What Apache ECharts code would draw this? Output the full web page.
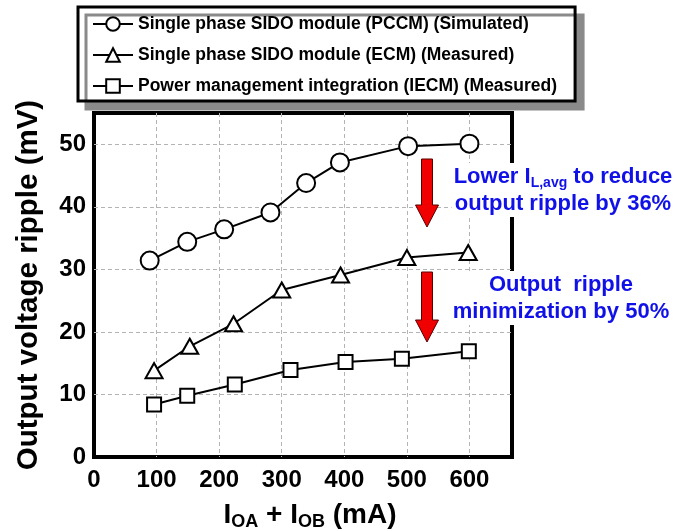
<!DOCTYPE html>
<html>
<head>
<meta charset="utf-8">
<script src="https://cdn.jsdelivr.net/npm/echarts@6/dist/echarts.min.js"></script>
<style>html,body{margin:0;padding:0;background:#fff;}#chart{width:689px;height:531px;}</style>
</head>
<body>
<div id="chart"></div>
<script>
// ---- data ----
var seriesNames = [
  'Single phase SIDO module (PCCM) (Simulated)',
  'Single phase SIDO module (ECM) (Measured)',
  'Power management integration (IECM) (Measured)'
];
var pccmX = [89, 149, 208, 282, 339, 393, 502, 600];
var pccmY = [31.4, 34.4, 36.4, 39.1, 43.8, 47.1, 49.7, 50.1];
var ecmX = [96, 153, 223, 300, 394, 500, 598];
var ecmY = [13.8, 17.7, 21.3, 26.7, 29.1, 31.9, 32.7];
var iecmX = [96, 149, 225, 314, 402, 492, 599];
var iecmY = [8.4, 9.8, 11.6, 13.9, 15.2, 15.7, 16.9];
var annotation1 = ['Lower I', 'L,avg', ' to reduce', 'output ripple by 36%'];
var annotation2 = ['Output  ripple', 'minimization by 50%'];

function pairs(xs, ys) { return xs.map(function (x, i) { return [x, ys[i]]; }); }

var FONT = '"Liberation Sans", Arial, sans-serif';
var BLUE = '#1010e8';

var chart = echarts.init(document.getElementById('chart'), null, { renderer: 'canvas' });

function lineSeries(name, data, symbol, size) {
  return {
    name: name, type: 'line', data: data,
    symbol: symbol, symbolSize: size,
    lineStyle: { color: '#000', width: 2 },
    itemStyle: { color: '#fff', borderColor: '#000', borderWidth: 2 },
    emphasis: { disabled: true },
    z: 5
  };
}

var arrowStyle = { fill: '#f00000', stroke: '#5a0000', lineWidth: 1 };
function arrowPoints(cx, top, headStart, tip) {
  return [[cx - 5.5, top], [cx + 5.5, top], [cx + 5.5, headStart], [cx + 11.5, headStart],
          [cx, tip], [cx - 11.5, headStart], [cx - 5.5, headStart]];
}

var option = {
  animation: false,
  backgroundColor: '#fff',
  textStyle: { fontFamily: FONT },
  grid: {
    left: 94, right: 177, top: 113, bottom: 74,
    containLabel: false, outerBoundsMode: 'none',
    show: true, borderColor: '#000', borderWidth: 4, backgroundColor: '#fff'
  },
  legend: {
    orient: 'vertical', left: 78, top: 7,
    padding: [8, 18, 6, 14],
    itemWidth: 40, itemHeight: 17, itemGap: 13,
    backgroundColor: '#fff', borderColor: '#000', borderWidth: 3,
    shadowColor: '#8a8a8a', shadowBlur: 0, shadowOffsetX: 8, shadowOffsetY: 8,
    textStyle: { fontSize: 17.5, fontWeight: 'bold', color: '#000', fontFamily: FONT },
    selectedMode: false,
    data: seriesNames
  },
  xAxis: {
    type: 'value', min: 0, max: 668, interval: 100,
    name: '{m|I}{s|OA}{m| + I}{s|OB}{m| (mA)}',
    nameLocation: 'middle', nameGap: 43,
    nameTextStyle: {
      color: '#000',
      padding: [0, 0, 0, 14],
      rich: {
        m: { fontSize: 28, fontWeight: 'bold', fontFamily: FONT, color: '#000', lineHeight: 31 },
        s: { fontSize: 18, fontWeight: 'bold', fontFamily: FONT, color: '#000', lineHeight: 18, verticalAlign: 'bottom' }
      }
    },
    axisLine: { show: false }, axisTick: { show: false },
    axisLabel: { fontSize: 24, fontWeight: 'bold', color: '#000', fontFamily: FONT, margin: 11, showMaxLabel: false },
    splitLine: { show: true, showMinLine: false, showMaxLine: false, lineStyle: { color: '#b4b4b4', width: 1, type: [4, 3] } }
  },
  yAxis: {
    type: 'value', min: 0, max: 55, interval: 10,
    name: 'Output voltage ripple (mV)',
    nameLocation: 'middle', nameGap: 50,
    nameTextStyle: { fontSize: 29.5, fontWeight: 'bold', color: '#000', fontFamily: FONT },
    axisLine: { show: false }, axisTick: { show: false },
    axisLabel: { fontSize: 24, fontWeight: 'bold', color: '#000', fontFamily: FONT, margin: 8, showMaxLabel: false },
    splitLine: { show: true, showMinLine: false, showMaxLine: false, lineStyle: { color: '#b4b4b4', width: 1, type: [4, 3] } }
  },
  series: [
    lineSeries(seriesNames[0], pairs(pccmX, pccmY), 'circle', 18),
    lineSeries(seriesNames[1], pairs(ecmX, ecmY), 'triangle', [17, 15]),
    lineSeries(seriesNames[2], pairs(iecmX, iecmY), 'rect', 14)
  ],
  graphic: [
    { type: 'polygon', z: 100, shape: { points: arrowPoints(427, 159, 205, 227) }, style: arrowStyle },
    { type: 'polygon', z: 100, shape: { points: arrowPoints(427, 272, 320, 342) }, style: arrowStyle },
    {
      type: 'text', z: 100, x: 563, y: 163,
      style: {
        text: '{a|' + annotation1[0] + '}{s|' + annotation1[1] + '}{a|' + annotation1[2] + '}\n{a|' + annotation1[3] + '}',
        align: 'center', verticalAlign: 'top',
        backgroundColor: '#fff', padding: [0, 2, 0, 2],
        rich: {
          a: { fontSize: 22, fontWeight: 'bold', fontFamily: FONT, fill: BLUE, lineHeight: 27 },
          s: { fontSize: 14, fontWeight: 'bold', fontFamily: FONT, fill: BLUE, lineHeight: 14, verticalAlign: 'bottom' }
        }
      }
    },
    {
      type: 'text', z: 100, x: 561, y: 271,
      style: {
        text: annotation2[0] + '\n' + annotation2[1],
        align: 'center', verticalAlign: 'top',
        backgroundColor: '#fff', padding: [0, 2, 0, 2],
        fontSize: 22, fontWeight: 'bold', fontFamily: FONT, fill: BLUE, lineHeight: 27
      }
    }
  ]
};
chart.setOption(option);
</script>
</body>
</html>
